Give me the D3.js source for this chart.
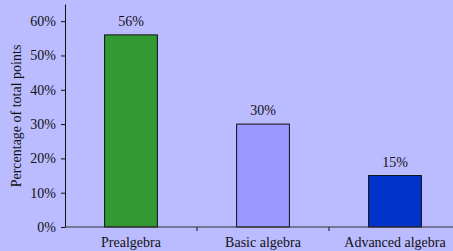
<!DOCTYPE html>
<html>
<head>
<meta charset="utf-8">
<script src="https://cdn.jsdelivr.net/npm/d3@7"></script>
<style>
body { margin: 0; background: #BBBBFF; }
svg { display: block; }
text { font-family: "Liberation Serif", "Times New Roman", serif; fill: #111; }
</style>
</head>
<body>
<div id="chart"></div>
<script>
// data
const categories = ["Prealgebra", "Basic algebra", "Advanced algebra"];
const values = [0.56, 0.30, 0.15];
const valueLabels = ["56%", "30%", "15%"];
const barColors = ["#339933", "#9999FF", "#0033CC"];
const yTicks = [0, 0.1, 0.2, 0.3, 0.4, 0.5, 0.6];

var width = 453, height = 251;
var marginLeft = 65, plotBottom = 227, plotTop = 4;
var fontSize = "14px";

const svg = d3.select("#chart").append("svg")
    .attr("width", width)
    .attr("height", height);

svg.append("rect").attr("width", width).attr("height", height).attr("fill", "#BBBBFF");

var xScale = d3.scaleBand().domain(categories).range([marginLeft, marginLeft + 132*3]).paddingInner(0).paddingOuter(0);
var yScale = d3.scaleLinear().domain([0, 0.65]).range([plotBottom, plotTop]);

// bars
svg.append("g").selectAll("rect").data(values).enter().append("rect")
    .attr("x", function(d,i) { return xScale(categories[i]) + xScale.bandwidth()*0.3; })
    .attr("y", function(d) { return yScale(d); })
    .attr("width", xScale.bandwidth()*0.4)
    .attr("height", function(d) { return plotBottom - yScale(d); })
    .attr("fill", function(d,i) { return barColors[i]; })
    .attr("stroke", "#111")
    .attr("stroke-width", 1);

// value labels
svg.append("g").selectAll("text").data(values).enter().append("text")
    .attr("x", function(d,i) { return xScale(categories[i]) + xScale.bandwidth()/2; })
    .attr("y", function(d) { return yScale(d) - 9; })
    .attr("text-anchor", "middle")
    .style("font-size", fontSize)
    .text(function(d,i) { return valueLabels[i]; });

// y axis
const yAxis = svg.append("g")
    .attr("transform", "translate(" + marginLeft + ",0)")
    .call(d3.axisLeft(yScale).tickValues(yTicks).tickFormat(d3.format(".0%")).tickSize(4).tickSizeOuter(0));
yAxis.attr("font-family", null);
yAxis.select(".domain").attr("stroke", "#111");
yAxis.selectAll(".tick line").attr("stroke", "#111");
yAxis.selectAll(".tick text").style("font-size", fontSize).attr("x", -9).attr("fill", "#111");

// x axis
svg.append("line").attr("x1", marginLeft).attr("x2", width).attr("y1", plotBottom).attr("y2", plotBottom).attr("stroke", "#333");
svg.append("g").selectAll("line").data(categories.slice(1)).enter().append("line")
    .attr("x1", function(d) { return xScale(d); })
    .attr("x2", function(d) { return xScale(d); })
    .attr("y1", plotBottom).attr("y2", plotBottom + 4)
    .attr("stroke", "#111");
svg.append("g").selectAll("text").data(categories).enter().append("text")
    .attr("x", function(d) { return xScale(d) + xScale.bandwidth()/2; })
    .attr("y", 247)
    .attr("text-anchor", "middle")
    .style("font-size", fontSize)
    .text(function(d) { return d; });

// axis title
svg.append("text")
    .attr("transform", "translate(21," + 116 + ") rotate(-90)")
    .attr("text-anchor", "middle")
    .style("font-size", fontSize)
    .text("Percentage of total points");
</script>
</body>
</html>
